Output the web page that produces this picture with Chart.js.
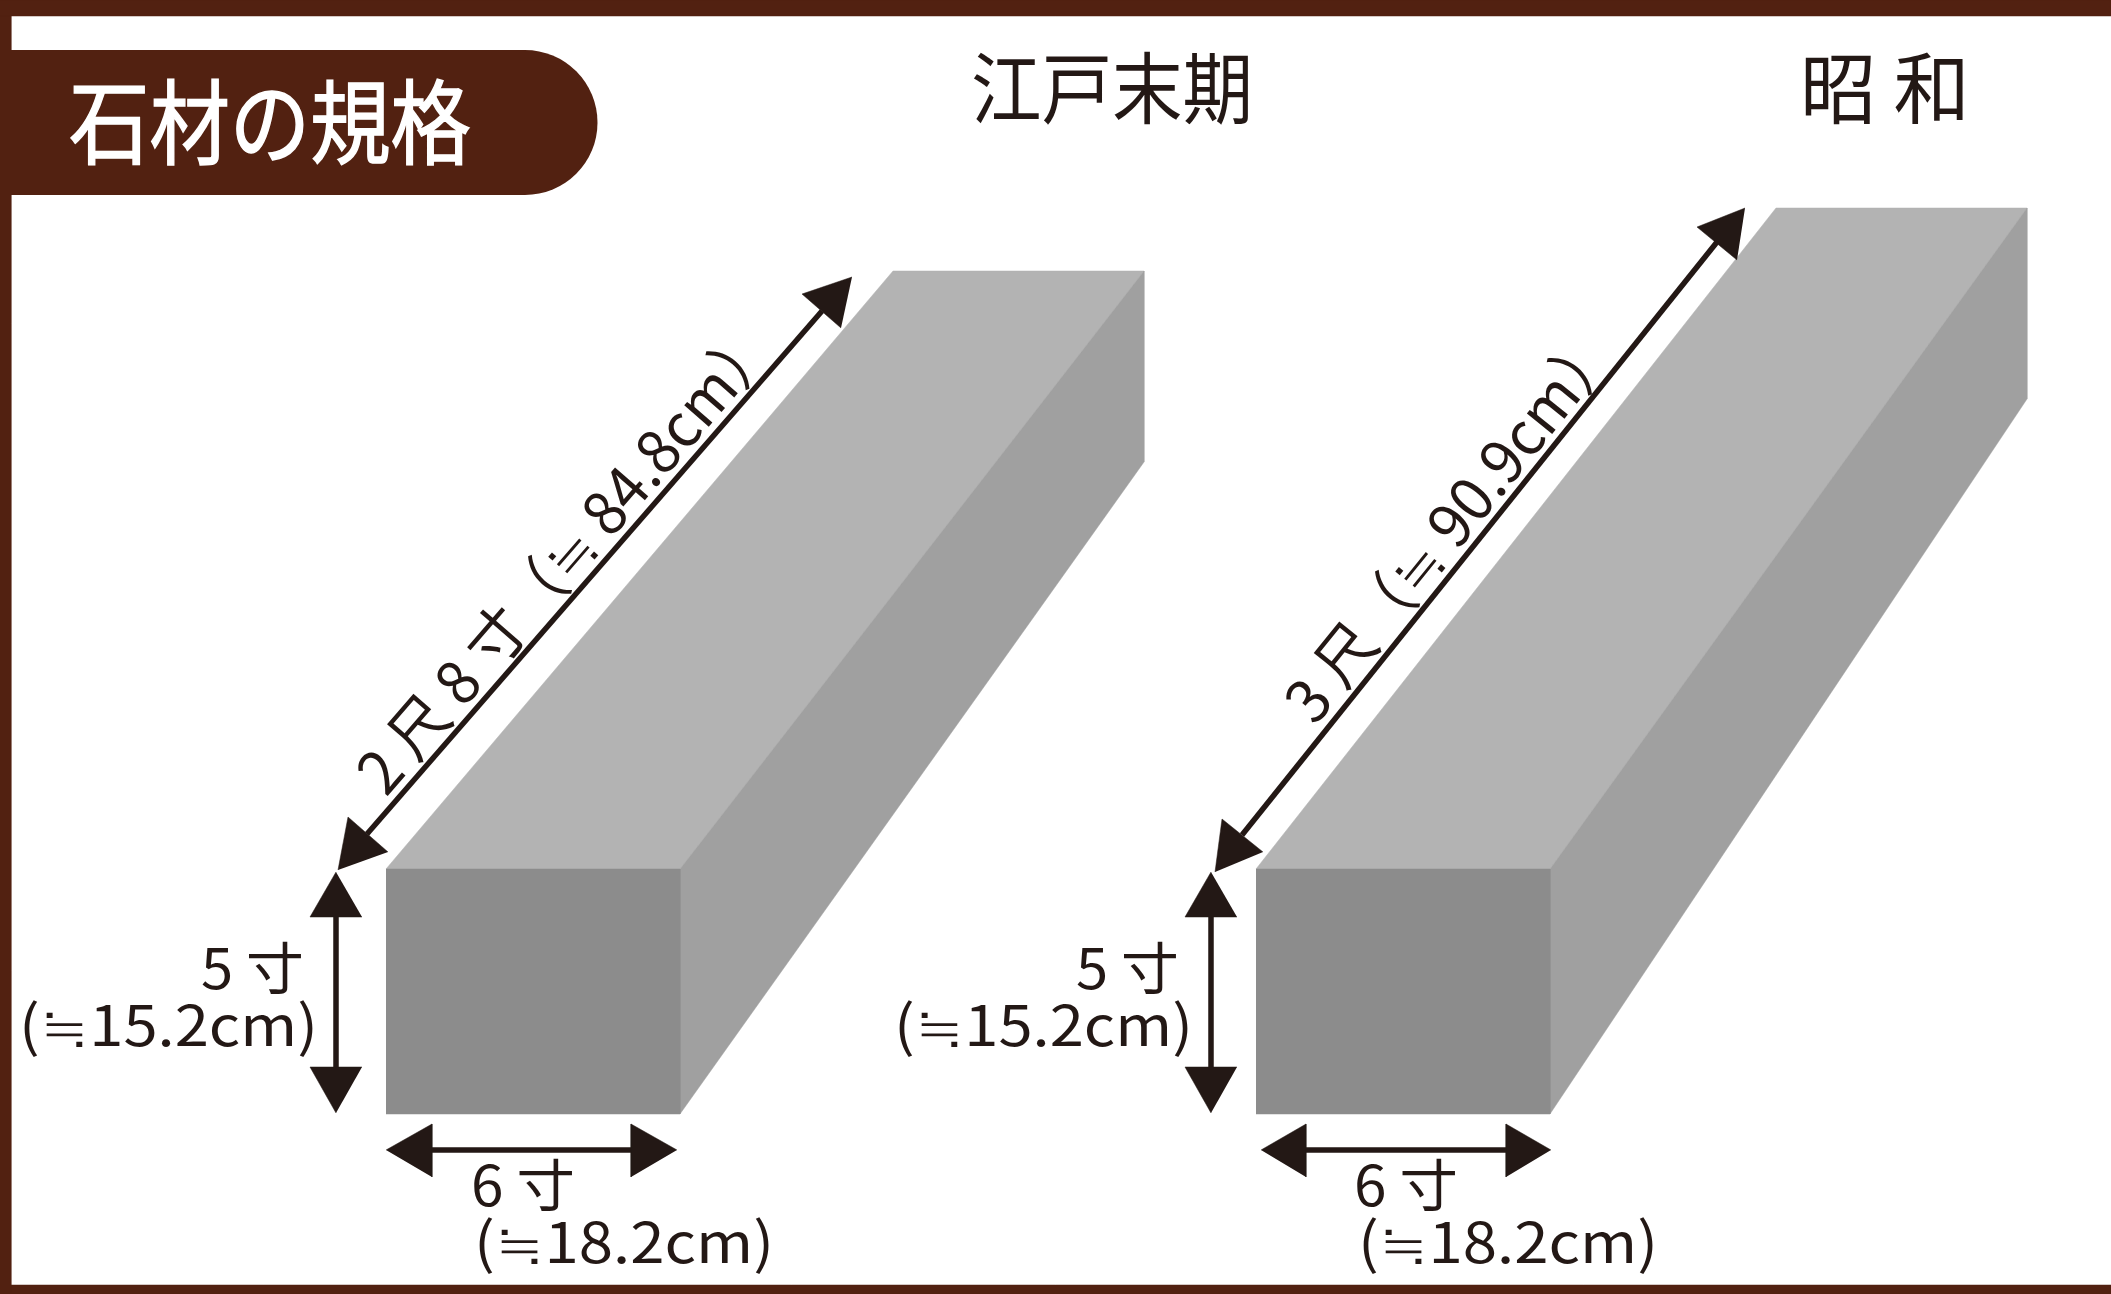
<!DOCTYPE html>
<html lang="ja">
<head>
<meta charset="utf-8">
<title>石材の規格</title>
<script src="https://cdn.jsdelivr.net/npm/chart.js@4"></script>
<style>
  html, body { margin: 0; padding: 0; background: #fff; }
  canvas { display: block; }
</style>
</head>
<body>
<canvas id="chart" width="2111" height="1294"></canvas>
<script>
// ================== DATA (in picture pixels) ==================
const frameTop = [[0,0],[2111,0],[2111,16],[0,16]];
const frameLeft = [[0,0],[11,0],[11,1294],[0,1294]];
const frameBottom = [[0,1285],[2111,1285],[2111,1294],[0,1294]];
const titleBar = [[0,122.5],[525,122.5]];

const edoFront = [[386,869],[680,869],[680,1114],[386,1114]];
const edoTop = [[386,869],[893,271],[1144,271],[680,869]];
const edoSide = [[680,869],[1144,271],[1144,462],[680,1114]];
const showaFront = [[1256,869],[1550,869],[1550,1114],[1256,1114]];
const showaTop = [[1256,869],[1776,208],[2027,208],[1550,869]];
const showaSide = [[1550,869],[2027,208],[2027,399],[1550,1114]];

const edoLongLine = [[367,834],[822,311]];
const edoLongHeads = [[[852,277],[802,294],[841,328]], [[338,870],[348,817],[388,852]]];
const edoHighLine = [[336,917],[336,1067]];
const edoHighHeads = [[[336,872],[310,917],[362,917]], [[336,1113],[310,1067],[362,1067]]];
const edoWideLine = [[432,1150],[631,1150]];
const edoWideHeads = [[[386,1150],[432,1124],[432,1177]], [[677,1150],[631,1124],[631,1177]]];

const showaLongLine = [[1242,835],[1717,242]];
const showaLongHeads = [[[1745,208],[1697,227],[1737,260]], [[1215,872],[1222,819],[1263,852]]];
const showaHighLine = [[1211,917],[1211,1067]];
const showaHighHeads = [[[1211,872],[1185,917],[1237,917]], [[1211,1113],[1185,1067],[1237,1067]]];
const showaWideLine = [[1306,1150],[1506,1150]];
const showaWideHeads = [[[1261,1150],[1306,1124],[1306,1177]], [[1551,1150],[1506,1124],[1506,1177]]];

const heading = '石材の規格';
const periods = ['江戸末期', '昭 和'];
const lengthLabels = ['2 尺 8 寸（≒ 84.8cm）', '3 尺（≒ 90.9cm）'];
const heightLabels = ['5 寸', '(≒15.2cm)'];
const widthLabels = ['6 寸', '(≒18.2cm)'];

// ================== HELPERS ==================
const BROWN = '#522111', INK = '#231815';
const pts = list => list.map(([x, y]) => ({ x, y }));
const shape = (list, color) => ({ data: pts(list), showLine: true, fill: 'shape', backgroundColor: color, borderColor: color, borderWidth: 0.5, pointRadius: 0 });
const stroke = (list, color, width, cap) => ({ data: pts(list), showLine: true, fill: false, borderColor: color, borderWidth: width, borderCapStyle: cap || 'butt', pointRadius: 0 });

const arrow = (line, heads) => [stroke(line, INK, 5.5), ...heads.map(h => shape(h, INK))];

// text squeezed to the width it has in the picture, anchored at baseline-left
const labelsPlugin = {
  id: 'diagramLabels',
  afterDraw(chart) {
    const { ctx, scales: { x, y } } = chart;
    const put = (text, px, py, width, size, color, angle, heavy) => {
      ctx.save();
      ctx.translate(x.getPixelForValue(px), y.getPixelForValue(py));
      if (angle) ctx.rotate(angle * Math.PI / 180);
      ctx.font = `${size}px "Noto Sans CJK JP"`;
      ctx.fillStyle = color;
      ctx.textAlign = 'left';
      ctx.textBaseline = 'alphabetic';
      ctx.scale(width / ctx.measureText(text).width, 1);
      if (heavy) { ctx.strokeStyle = color; ctx.lineWidth = heavy; ctx.strokeText(text, 0, 0); }
      ctx.fillText(text, 0, 0);
      ctx.restore();
    };
    put(heading, 69, 157, 402, 92, '#fff', 0, 1.5);
    put(periods[0], 971, 118, 282, 78, INK);
    put(periods[1], 1800, 118, 170, 78, INK);
    put(lengthLabels[0], 386, 798, 600, 60, INK, -49);
    put(lengthLabels[1], 1315, 727, 486, 60, INK, -51);
    put(heightLabels[0], 201, 989, 103, 56, INK);
    put(heightLabels[1], 19, 1046, 299, 56, INK);
    put(widthLabels[0], 471, 1206, 104, 56, INK);
    put(widthLabels[1], 474, 1263, 300, 56, INK);
    put(heightLabels[0], 1076, 989, 103, 56, INK);
    put(heightLabels[1], 894, 1046, 299, 56, INK);
    put(widthLabels[0], 1354, 1206, 104, 56, INK);
    put(widthLabels[1], 1358, 1263, 300, 56, INK);
  }
};

// ================== CHART ==================
new Chart(document.getElementById('chart'), {
  type: 'scatter',
  data: {
    datasets: [
      ...arrow(edoLongLine, edoLongHeads),
      ...arrow(edoHighLine, edoHighHeads),
      ...arrow(edoWideLine, edoWideHeads),
      ...arrow(showaLongLine, showaLongHeads),
      ...arrow(showaHighLine, showaHighHeads),
      ...arrow(showaWideLine, showaWideHeads),
      shape(edoFront, '#8c8c8c'),
      shape(edoSide, '#a0a0a0'),
      shape(edoTop, '#b3b3b3'),
      shape(showaFront, '#8c8c8c'),
      shape(showaSide, '#a0a0a0'),
      shape(showaTop, '#b3b3b3'),
      stroke(titleBar, BROWN, 145, 'round'),
      shape(frameTop, BROWN),
      shape(frameLeft, BROWN),
      shape(frameBottom, BROWN)
    ]
  },
  options: {
    responsive: false,
    devicePixelRatio: 1,
    animation: false,
    layout: { padding: 0 },
    plugins: { legend: { display: false }, tooltip: { enabled: false }, title: { display: false } },
    scales: {
      x: { type: 'linear', min: 0, max: 2111, display: false },
      y: { type: 'linear', min: 0, max: 1294, reverse: true, display: false }
    }
  },
  plugins: [labelsPlugin]
});
</script>
</body>
</html>
